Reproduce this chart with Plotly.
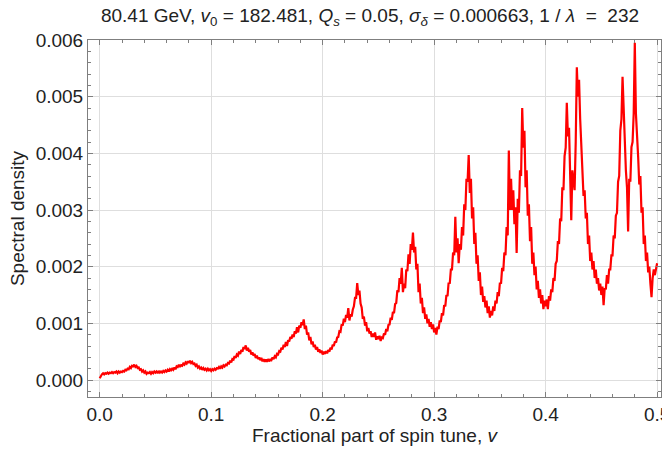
import numpy as np
import plotly.graph_objects as go

# Fractional part of spin tune, sampled every 0.001
nu = [round(i * 0.001, 3) for i in range(501)]

# Spectral density in units of 1e-3 (noisy trace)
density_e3 = [
    0.03, 0.07, 0.10, 0.12, 0.10, 0.12, 0.11, 0.13, 0.11, 0.13,   # 0.000
    0.12, 0.14, 0.12, 0.14, 0.13, 0.15, 0.12, 0.15, 0.13, 0.15,   # 0.010
    0.14, 0.16, 0.15, 0.18, 0.17, 0.20, 0.19, 0.23, 0.21, 0.25,   # 0.020
    0.24, 0.27, 0.23, 0.25, 0.21, 0.22, 0.18, 0.19, 0.15, 0.17,   # 0.030
    0.13, 0.15, 0.11, 0.13, 0.12, 0.14, 0.11, 0.14, 0.12, 0.15,   # 0.040
    0.13, 0.15, 0.12, 0.16, 0.13, 0.15, 0.13, 0.16, 0.14, 0.17,   # 0.050
    0.15, 0.18, 0.15, 0.19, 0.17, 0.20, 0.18, 0.22, 0.19, 0.24,   # 0.060
    0.23, 0.27, 0.23, 0.26, 0.25, 0.29, 0.27, 0.31, 0.29, 0.33,   # 0.070
    0.30, 0.34, 0.30, 0.32, 0.28, 0.29, 0.25, 0.27, 0.22, 0.24,   # 0.080
    0.20, 0.22, 0.18, 0.21, 0.18, 0.20, 0.17, 0.20, 0.17, 0.19,   # 0.090
    0.16, 0.19, 0.17, 0.20, 0.18, 0.21, 0.20, 0.23, 0.20, 0.24,   # 0.100
    0.22, 0.26, 0.24, 0.27, 0.26, 0.30, 0.29, 0.34, 0.31, 0.37,   # 0.110
    0.36, 0.42, 0.39, 0.45, 0.43, 0.50, 0.46, 0.53, 0.50, 0.58,   # 0.120
    0.55, 0.61, 0.52, 0.57, 0.50, 0.53, 0.45, 0.49, 0.43, 0.46,   # 0.130
    0.39, 0.43, 0.37, 0.40, 0.35, 0.39, 0.33, 0.37, 0.32, 0.36,   # 0.140
    0.32, 0.37, 0.33, 0.36, 0.35, 0.40, 0.37, 0.42, 0.40, 0.46,   # 0.150
    0.45, 0.51, 0.50, 0.57, 0.54, 0.62, 0.58, 0.67, 0.60, 0.70,   # 0.160
    0.68, 0.76, 0.73, 0.80, 0.76, 0.86, 0.82, 0.93, 0.84, 0.96,   # 0.170
    0.92, 1.02, 0.97, 1.07, 0.90, 0.96, 0.80, 0.84, 0.70, 0.76,   # 0.180
    0.63, 0.68, 0.58, 0.62, 0.54, 0.58, 0.50, 0.54, 0.48, 0.52,   # 0.190
    0.45, 0.50, 0.46, 0.51, 0.47, 0.53, 0.50, 0.57, 0.54, 0.62,   # 0.200
    0.60, 0.68, 0.66, 0.75, 0.76, 0.86, 0.85, 0.98, 0.96, 1.08,   # 0.210
    1.02, 1.15, 1.10, 1.27, 1.05, 1.16, 1.12, 1.24, 1.30, 1.45,   # 0.220
    1.45, 1.71, 1.50, 1.58, 1.35, 1.28, 1.08, 1.12, 0.96, 1.02,   # 0.230
    0.86, 0.92, 0.82, 0.86, 0.76, 0.82, 0.76, 0.84, 0.71, 0.77,   # 0.240
    0.72, 0.78, 0.69, 0.75, 0.74, 0.82, 0.80, 0.90, 0.86, 0.97,   # 0.250
    0.98, 1.10, 1.06, 1.20, 1.18, 1.34, 1.36, 1.58, 1.55, 1.80,   # 0.260
    1.70, 1.98, 1.55, 1.70, 1.62, 1.95, 1.92, 2.22, 2.05, 2.40,   # 0.270
    2.30, 2.60, 2.25, 2.35, 1.95, 2.05, 1.55, 1.70, 1.35, 1.45,   # 0.280
    1.18, 1.28, 1.08, 1.16, 1.00, 1.08, 0.94, 1.02, 0.90, 0.98,   # 0.290
    0.84, 0.92, 0.80, 0.94, 0.90, 1.05, 1.02, 1.18, 1.14, 1.32,   # 0.300
    1.30, 1.50, 1.48, 1.72, 1.70, 1.95, 1.95, 2.25, 2.20, 2.88,   # 0.310
    2.25, 2.50, 2.06, 2.40, 2.30, 2.70, 2.55, 3.10, 3.00, 3.55,   # 0.320
    3.50, 3.97, 3.30, 3.55, 2.85, 3.05, 2.40, 2.60, 2.05, 2.20,   # 0.330
    1.75, 1.90, 1.50, 1.65, 1.38, 1.48, 1.28, 1.40, 1.18, 1.30,   # 0.340
    1.10, 1.22, 1.14, 1.30, 1.22, 1.40, 1.35, 1.55, 1.48, 1.72,   # 0.350
    1.70, 1.98, 1.92, 2.25, 2.20, 2.70, 2.55, 4.05, 3.00, 3.55,   # 0.360
    3.00, 3.35, 2.75, 3.05, 2.24, 3.20, 2.95, 3.70, 3.60, 4.80,   # 0.370
    4.10, 4.40, 3.40, 3.70, 2.90, 3.10, 2.45, 2.70, 2.05, 2.25,   # 0.380
    1.85, 2.00, 1.60, 1.75, 1.45, 1.60, 1.35, 1.50, 1.25, 1.40,   # 0.390
    1.30, 1.42, 1.25, 1.48, 1.40, 1.60, 1.55, 1.80, 1.75, 2.05,   # 0.400
    2.10, 2.45, 2.40, 2.85, 2.80, 3.40, 3.35, 3.95, 4.10, 4.89,   # 0.410
    4.30, 4.45, 3.50, 2.82, 3.70, 3.45, 3.35, 4.20, 5.52, 5.00,   # 0.420
    5.30, 4.60, 4.10, 3.70, 3.25, 3.35, 2.85, 2.95, 2.40, 2.55,   # 0.430
    2.10, 2.25, 1.95, 2.10, 1.80, 1.95, 1.70, 1.80, 1.58, 1.70,   # 0.440
    1.50, 1.65, 1.32, 1.62, 1.60, 1.85, 1.70, 1.95, 1.95, 2.20,   # 0.450
    2.20, 2.55, 2.50, 2.90, 2.95, 3.50, 3.60, 4.40, 4.60, 5.35,   # 0.460
    4.70, 4.45, 3.70, 3.40, 2.62, 3.55, 3.50, 4.11, 4.20, 4.70,   # 0.470
    5.95, 4.70, 4.40, 3.94, 3.45, 3.60, 2.95, 3.05, 2.40, 2.55,   # 0.480
    2.10, 2.25, 1.90, 2.00, 1.70, 1.46, 1.80, 1.95, 1.85, 2.00,   # 0.490
    2.06,                                                          # 0.500
]

x_ticks = [0.0, 0.1, 0.2, 0.3, 0.4, 0.5]
y_ticks = [0.000, 0.001, 0.002, 0.003, 0.004, 0.005, 0.006]

density = np.array(density_e3) * 1e-3

fig = go.Figure()
fig.add_trace(go.Scatter(
    x=nu, y=density, mode="lines",
    line=dict(color="#ff0000", width=2.2),
    showlegend=False,
))

FAMILY = "Liberation Sans, Arial, sans-serif"
font = dict(family=FAMILY, size=19, color="#222222")

axis_common = dict(
    showline=True, linecolor="#7f7f7f", linewidth=1, mirror="allticks",
    ticks="inside", ticklen=5, tickcolor="#7f7f7f", tickwidth=1,
    showgrid=True, gridcolor="#dedede", gridwidth=1,
    zeroline=False, tickfont=font, ticklabeloverflow="allow",
    automargin=False,
)

fig.update_layout(
    width=662, height=449,
    margin=dict(l=88, r=1, t=40, b=52),
    paper_bgcolor="white", plot_bgcolor="white",
    font=font,
    title=dict(
        text=("80.41 GeV, <i>v</i><sub>0</sub> = 182.481, <i>Q</i><sub><i>s</i></sub> = 0.05, "
              "<i>σ</i><sub><i>δ</i></sub> = 0.000663, 1 / <i>λ</i>  =  232"),
        x=370 / 662, xanchor="center", xref="container",
        y=1 - 15 / 449, yanchor="middle", yref="container",
        font=dict(family=FAMILY, size=19, color="#222222"),
    ),
    xaxis=dict(
        axis_common,
        range=[-0.0105, 0.5035],
        tickvals=x_ticks, ticktext=[f"{t:.1f}" for t in x_ticks],
        minor=dict(dtick=0.02, tick0=0, ticks="inside", ticklen=3,
                   tickcolor="#7f7f7f", showgrid=False),
        title=dict(text="Fractional part of spin tune, <i>v</i>", font=font, standoff=4),
    ),
    yaxis=dict(
        axis_common,
        range=[-0.0003, 0.006],
        tickvals=y_ticks, ticktext=[f"{t:.3f}" for t in y_ticks],
        minor=dict(dtick=0.0002, tick0=0, ticks="inside", ticklen=3,
                   tickcolor="#7f7f7f", showgrid=False),
        title=dict(text="Spectral density", font=font, standoff=6),
    ),
)

fig.write_html("out.html")
